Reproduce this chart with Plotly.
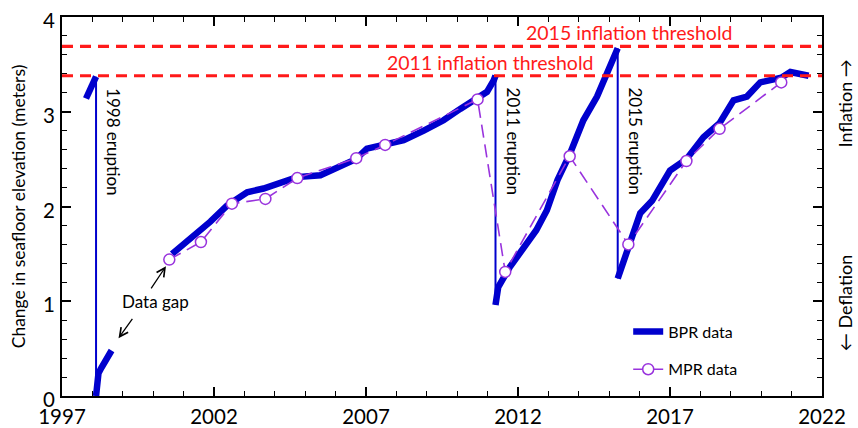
import plotly.graph_objects as go

# --- Bottom-pressure-recorder (BPR) segments: decimal year, uplift (m) ---
bpr_pre1998_x = [1997.79, 1997.90, 1998.00, 1998.12]
bpr_pre1998_y = [3.14, 3.22, 3.28, 3.37]

bpr_1998_x = [1998.12, 1998.15, 1998.20, 1998.30, 1998.45, 1998.63]
bpr_1998_y = [0.00, 0.15, 0.24, 0.30, 0.38, 0.48]

bpr_2000_x = [2000.62, 2001.22, 2001.88, 2002.43, 2003.09, 2003.63, 2004.29,
              2004.73, 2005.50, 2006.15, 2006.67, 2007.03, 2007.63, 2008.24,
              2008.90, 2009.55, 2010.10, 2010.67, 2010.98, 2011.20, 2011.26]
bpr_2000_y = [1.50, 1.66, 1.84, 2.01, 2.15, 2.19, 2.26,
              2.31, 2.33, 2.43, 2.50, 2.61, 2.66, 2.70,
              2.80, 2.91, 3.03, 3.15, 3.21, 3.33, 3.38]

bpr_2011_x = [2011.26, 2011.35, 2011.73, 2012.28, 2012.60, 2012.95, 2013.30,
              2013.70, 2014.15, 2014.60, 2014.93, 2015.28]
bpr_2011_y = [0.96, 1.15, 1.36, 1.61, 1.75, 1.96, 2.28,
              2.55, 2.91, 3.16, 3.40, 3.67]

bpr_2015_x = [2015.28, 2015.47, 2015.64, 2016.02, 2016.41, 2017.00, 2017.54,
              2018.10, 2018.63, 2019.09, 2019.53, 2019.97, 2020.66, 2020.96,
              2021.56]
bpr_2015_y = [1.24, 1.41, 1.61, 1.93, 2.06, 2.38, 2.50,
              2.73, 2.88, 3.12, 3.16, 3.31, 3.36, 3.42,
              3.38]

# --- Mobile-pressure-recorder (MPR) campaign measurements ---
mpr_x = [2000.53, 2001.57, 2002.59, 2003.69, 2004.74, 2006.68, 2007.63,
         2010.67, 2011.58, 2013.70, 2015.63, 2017.54, 2018.63, 2020.66]
mpr_y = [1.44, 1.625, 2.03, 2.08, 2.30, 2.51, 2.65,
         3.13, 1.31, 2.53, 1.60, 2.48, 2.82, 3.31]

# --- Eruptions and inflation thresholds ---
eruption_labels = ["1998 eruption", "2011 eruption", "2015 eruption"]
threshold_values = [3.69, 3.38]
threshold_labels = ["2015 inflation threshold", "2011 inflation threshold"]
threshold_label_x = [2015.66, 2011.07]

x_ticks = [1997, 2002, 2007, 2012, 2017, 2022]
y_ticks = [0, 1, 2, 3, 4]

BLUE = "#0000CD"
PURPLE = "#9933DD"
RED = "#FF1A1A"
FONT = "Lato"

segments = [(bpr_pre1998_x, bpr_pre1998_y), (bpr_1998_x, bpr_1998_y),
            (bpr_2000_x, bpr_2000_y), (bpr_2011_x, bpr_2011_y),
            (bpr_2015_x, bpr_2015_y)]
# segment pairs joined by an eruption (the 1998 -> 2000 break is a data gap)
eruption_pairs = [(0, 1), (2, 3), (3, 4)]

fig = go.Figure()

# thin vertical drops at each eruption
for (a, b) in eruption_pairs:
    xa, ya = segments[a]
    xb, yb = segments[b]
    fig.add_trace(go.Scatter(
        x=[xa[-1], xb[0]], y=[ya[-1], yb[0]], mode="lines",
        line=dict(color=BLUE, width=2), showlegend=False, hoverinfo="skip"))

# thick BPR record
for i, (sx, sy) in enumerate(segments):
    fig.add_trace(go.Scatter(
        x=sx, y=sy, mode="lines", name="BPR data",
        line=dict(color=BLUE, width=6.5),
        legendgroup="bpr", showlegend=(i == 0)))

# MPR campaign points
fig.add_trace(go.Scatter(
    x=mpr_x, y=mpr_y, mode="lines+markers", name="MPR data",
    line=dict(color=PURPLE, width=1.6, dash="13px,7px"),
    marker=dict(symbol="circle", size=11, color="white",
                line=dict(color=PURPLE, width=1.5)),
    legendgroup="mpr"))

# inflation thresholds
for v in threshold_values:
    fig.add_trace(go.Scatter(
        x=[x_ticks[0], x_ticks[-1]], y=[v, v], mode="lines",
        line=dict(color=RED, width=3.2, dash="11px,7px"),
        showlegend=False, hoverinfo="skip"))

annotations = []
for v, lab, lx in zip(threshold_values, threshold_labels, threshold_label_x):
    annotations.append(dict(x=lx, y=v, text=lab, showarrow=False,
                            xanchor="center", yanchor="bottom", yshift=0,
                            font=dict(family=FONT, size=19.5, color=RED)))

for (a, b), lab in zip(eruption_pairs, eruption_labels):
    xa, ya = segments[a]
    annotations.append(dict(x=xa[-1], y=2.69, text=lab, showarrow=False,
                            textangle=90, xshift=18, xanchor="center",
                            yanchor="middle",
                            font=dict(family=FONT, size=17, color="black")))

# data-gap callout
annotations.append(dict(x=2000.07, y=1.0, text="Data gap", showarrow=False,
                        font=dict(family=FONT, size=17, color="black")))
annotations.append(dict(x=bpr_2000_x[0] - 0.2, y=bpr_2000_y[0] - 0.13,
                        ax=1999.9, ay=1.12, axref="x", ayref="y",
                        text="", showarrow=True, arrowhead=5, arrowsize=1.3,
                        arrowwidth=1.3, arrowcolor="black"))
annotations.append(dict(x=bpr_1998_x[-1] + 0.23, y=bpr_1998_y[-1] + 0.13,
                        ax=1999.35, ay=0.83, axref="x", ayref="y",
                        text="", showarrow=True, arrowhead=5, arrowsize=1.3,
                        arrowwidth=1.3, arrowcolor="black"))

# right-hand direction labels
annotations.append(dict(x=1.0, y=0.772, xref="paper", yref="paper",
                        xshift=23, xanchor="center", yanchor="middle",
                        text="Inflation \u2192", textangle=-90, showarrow=False,
                        font=dict(family=FONT, size=18, color="black")))
annotations.append(dict(x=1.0, y=0.245, xref="paper", yref="paper",
                        xshift=23, xanchor="center", yanchor="middle",
                        text="\u2190 Deflation", textangle=-90, showarrow=False,
                        font=dict(family=FONT, size=18, color="black")))

axis_common = dict(
    showline=True, linecolor="black", linewidth=2, mirror="ticks",
    ticks="inside", ticklen=9, tickwidth=1.5, tickcolor="black",
    showgrid=False, zeroline=False, automargin=False,
)

fig.update_layout(
    width=858, height=428,
    margin=dict(l=62, r=36, t=17, b=32, autoexpand=False),
    paper_bgcolor="white", plot_bgcolor="white",
    font=dict(family=FONT, color="black"),
    xaxis=dict(range=[x_ticks[0], x_ticks[-1]], tickvals=x_ticks,
               ticklabelstandoff=1,
               tickfont=dict(family=FONT, size=20.5, color="black"),
               minor=dict(dtick=1, tick0=1997, ticks="inside", ticklen=5,
                          tickwidth=1.2, tickcolor="black", showgrid=False),
               **axis_common),
    yaxis=dict(range=[y_ticks[0], y_ticks[-1]], tickvals=y_ticks,
               ticklabelshift=4, ticklabelstandoff=1,
               tickfont=dict(family=FONT, size=20.5, color="black"),
               minor=dict(dtick=0.2, tick0=0, ticks="inside", ticklen=5,
                          tickwidth=1.2, tickcolor="black", showgrid=False),
               title=dict(text="Change in seafloor elevation (meters)",
                          font=dict(family=FONT, size=17.5), standoff=13),
               **axis_common),
    legend=dict(x=0.745, y=0.215, xanchor="left", yanchor="top",
                bgcolor="rgba(0,0,0,0)", tracegroupgap=14,
                font=dict(family=FONT, size=16, color="black")),
    annotations=annotations,
)

fig.write_html("out.html")
